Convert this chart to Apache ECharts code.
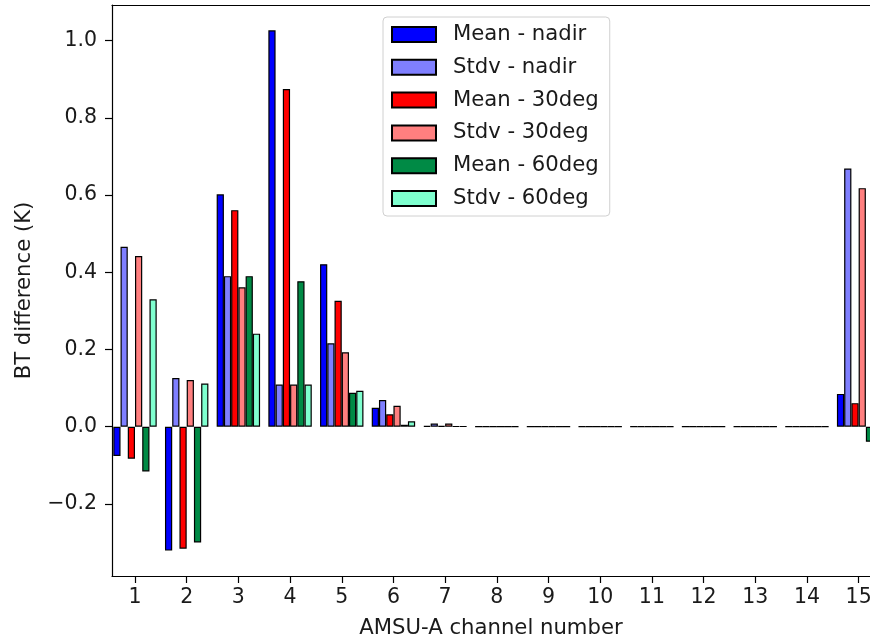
<!DOCTYPE html>
<html>
<head>
<meta charset="utf-8">
<title>AMSU-A BT difference</title>
<script src="https://cdn.jsdelivr.net/npm/echarts@6/dist/echarts.min.js"></script>
<style>
  html, body { margin: 0; padding: 0; background: #fff; }
  #chart { width: 870px; height: 643px; }
</style>
</head>
<body>
<div id="chart"></div>
<script>
// AMSU-A channels 1..15
const channels = [1, 2, 3, 4, 5, 6, 7, 8, 9, 10, 11, 12, 13, 14, 15];

// Brightness-temperature differences (K), one array per statistic / scan angle
const meanNadir = [-0.076, -0.321, 0.602, 1.027, 0.421, 0.049, 0.002, 0, 0, 0, 0, 0, 0, 0, 0.085];
const stdvNadir = [0.466, 0.126, 0.390, 0.109, 0.216, 0.069, 0.008, 0, 0, 0, 0, 0, 0, 0, 0.669];
const mean30deg = [-0.083, -0.316, 0.561, 0.875, 0.326, 0.032, 0.002, 0, 0, 0, 0, 0, 0, 0, 0.061];
const stdv30deg = [0.442, 0.121, 0.361, 0.109, 0.193, 0.054, 0.008, 0, 0, 0, 0, 0, 0, 0, 0.618];
const mean60deg = [-0.116, -0.300, 0.390, 0.377, 0.088, 0.005, 0.001, 0, 0, 0, 0, 0, 0, 0, -0.039];
const stdv60deg = [0.330, 0.112, 0.241, 0.109, 0.093, 0.014, 0.001, 0, 0, 0, 0, 0, 0, 0, 0.050];

// Axis tick positions
const yTicks = [-0.2, 0.0, 0.2, 0.4, 0.6, 0.8, 1.0];
const xTicks = channels;

const seriesDefs = [
  { name: 'Mean - nadir', values: meanNadir, color: '#0000ff' },
  { name: 'Stdv - nadir', values: stdvNadir, color: '#7f7fff' },
  { name: 'Mean - 30deg', values: mean30deg, color: '#ff0000' },
  { name: 'Stdv - 30deg', values: stdv30deg, color: '#ff7f7f' },
  { name: 'Mean - 60deg', values: mean60deg, color: '#008a45' },
  { name: 'Stdv - 60deg', values: stdv60deg, color: '#7fffcf' }
];

const FONT = 'DejaVu Sans';
const TXT = '#1a1a1a';
const TICK_SIZE = 20.5;
const LABEL_SIZE = 21.2;

const X_MIN = 0.555;
const X_MAX = 15.22;

const chart = echarts.init(document.getElementById('chart'), null, { renderer: 'canvas' });

const fmt = v => {
  const s = Number(v).toFixed(1);
  return s.startsWith('-') ? '\u2212' + s.slice(1) : s;
};

chart.setOption({
  animation: false,
  backgroundColor: '#ffffff',
  textStyle: { fontFamily: FONT },
  grid: { left: 112, right: 0, top: 5, bottom: 67, outerBoundsMode: 'none', containLabel: false },
  legend: {
    orient: 'vertical',
    left: 383,
    top: 17,
    padding: [7, 11, 7, 8],
    itemWidth: 44,
    itemHeight: 15,
    itemGap: 11.8,
    icon: 'rect',
    backgroundColor: 'rgba(255,255,255,0.8)',
    borderColor: '#d0d0d0',
    borderWidth: 1,
    borderRadius: 4,
    textStyle: { fontFamily: FONT, fontSize: LABEL_SIZE, color: TXT, lineHeight: 20, padding: [0, 0, 0, 12] },
    data: seriesDefs.map(s => s.name)
  },
  xAxis: [
    {
      type: 'value',
      position: 'bottom',
      min: X_MIN,
      max: X_MAX,
      name: 'AMSU-A channel number',
      nameLocation: 'middle',
      nameGap: 42,
      nameTextStyle: { fontFamily: FONT, fontSize: LABEL_SIZE, color: TXT },
      axisLine: { show: true, onZero: false, lineStyle: { color: '#000', width: 1.2 } },
      axisTick: { show: true, length: 7, lineStyle: { color: '#000', width: 1.2 }, customValues: xTicks },
      axisLabel: { show: true, fontFamily: FONT, fontSize: TICK_SIZE, color: TXT, margin: 11, customValues: xTicks, formatter: v => String(v) },
      splitLine: { show: false }
    },
    {
      type: 'value',
      position: 'top',
      min: X_MIN,
      max: X_MAX,
      axisLine: { show: true, onZero: false, lineStyle: { color: '#000', width: 1.2 } },
      axisTick: { show: false },
      axisLabel: { show: false },
      splitLine: { show: false }
    }
  ],
  yAxis: {
    type: 'value',
    min: -0.3868,
    max: 1.0925,
    name: 'BT difference (K)',
    nameLocation: 'middle',
    nameGap: 77,
    nameTextStyle: { fontFamily: FONT, fontSize: LABEL_SIZE, color: TXT },
    axisLine: { show: true, onZero: false, lineStyle: { color: '#000', width: 1.2 } },
    axisTick: { show: true, length: 7, lineStyle: { color: '#000', width: 1.2 }, customValues: yTicks },
    axisLabel: { show: true, fontFamily: FONT, fontSize: TICK_SIZE, color: TXT, margin: 15, customValues: yTicks, formatter: fmt },
    splitLine: { show: false }
  },
  series: seriesDefs.map(s => ({
    type: 'bar',
    name: s.name,
    xAxisIndex: 0,
    barGap: '0%',
    barCategoryGap: '16%',
    clip: true,
    itemStyle: { color: s.color, borderColor: '#000', borderWidth: 1.2 },
    emphasis: { disabled: true },
    data: channels.map((c, i) => [c, s.values[i]])
  }))
});
</script>
</body>
</html>
